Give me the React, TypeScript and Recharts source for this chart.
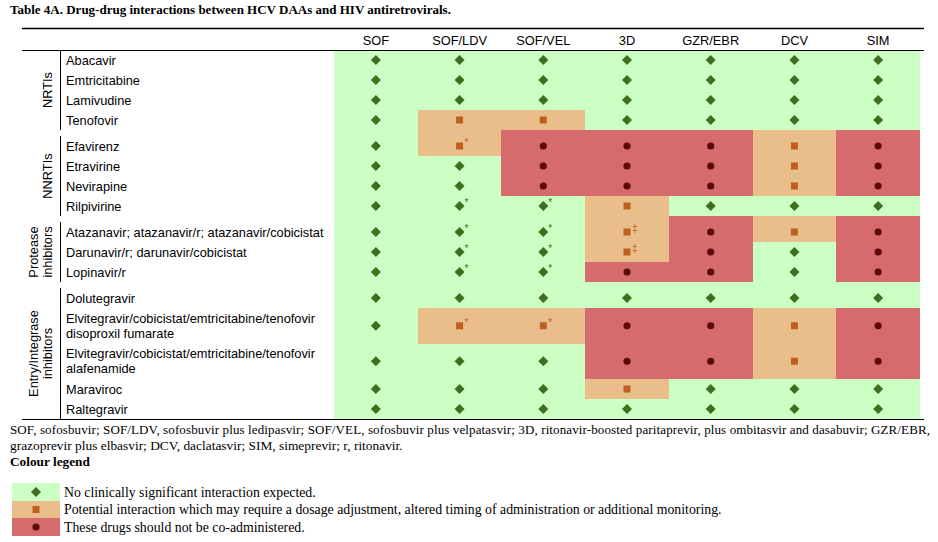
import { ReferenceArea, Scatter, ScatterChart, XAxis, YAxis } from 'recharts'

const regimens = ['SOF', 'SOF/LDV', 'SOF/VEL', '3D', 'GZR/EBR', 'DCV', 'SIM']

const drugs = [
  'Abacavir',
  'Emtricitabine',
  'Lamivudine',
  'Tenofovir',
  'Efavirenz',
  'Etravirine',
  'Nevirapine',
  'Rilpivirine',
  'Atazanavir; atazanavir/r; atazanavir/cobicistat',
  'Darunavir/r; darunavir/cobicistat',
  'Lopinavir/r',
  'Dolutegravir',
  'Elvitegravir/cobicistat/emtricitabine/tenofovir\ndisoproxil fumarate',
  'Elvitegravir/cobicistat/emtricitabine/tenofovir\nalafenamide',
  'Maraviroc',
  'Raltegravir',
]

const drugGroups = ['NRTIs', 'NNRTIs', 'Protease\ninhibitors', 'Entry/Integrase\ninhibitors']
const groupSizes = [4, 4, 3, 5]

// g = no interaction, o = potential interaction, r = do not co-administer (+ footnote mark)
const interactions = [
  ['g', 'g', 'g', 'g', 'g', 'g', 'g'],
  ['g', 'g', 'g', 'g', 'g', 'g', 'g'],
  ['g', 'g', 'g', 'g', 'g', 'g', 'g'],
  ['g', 'o', 'o', 'g', 'g', 'g', 'g'],
  ['g', 'o*', 'r', 'r', 'r', 'o', 'r'],
  ['g', 'g', 'r', 'r', 'r', 'o', 'r'],
  ['g', 'g', 'r', 'r', 'r', 'o', 'r'],
  ['g', 'g*', 'g*', 'o', 'g', 'g', 'g'],
  ['g', 'g*', 'g*', 'o‡', 'r', 'o', 'r'],
  ['g', 'g*', 'g*', 'o‡', 'r', 'g', 'r'],
  ['g', 'g*', 'g*', 'r', 'r', 'g', 'r'],
  ['g', 'g', 'g', 'g', 'g', 'g', 'g'],
  ['g', 'o*', 'o*', 'r', 'r', 'o', 'r'],
  ['g', 'g', 'g', 'r', 'r', 'o', 'r'],
  ['g', 'g', 'g', 'o', 'g', 'g', 'g'],
  ['g', 'g', 'g', 'g', 'g', 'g', 'g'],
]

const abbreviations = [
  'SOF, sofosbuvir; SOF/LDV, sofosbuvir plus ledipasvir; SOF/VEL, sofosbuvir plus velpatasvir; 3D, ritonavir-boosted paritaprevir, plus ombitasvir and dasabuvir; GZR/EBR,',
  'grazoprevir plus elbasvir; DCV, daclatasvir; SIM, simeprevir; r, ritonavir.',
]

const legendLevels = ['g', 'o', 'r']
const legendTexts = [
  'No clinically significant interaction expected.',
  'Potential interaction which may require a dosage adjustment, altered timing of administration or additional monitoring.',
  'These drugs should not be co-administered.',
]

const SANS = '"Liberation Sans", Arial, sans-serif'
const SERIF = '"Liberation Serif", "Times New Roman", serif'
const LABEL_SIZE = 12.8
const CELL_FILL: Record<string, string> = { g: '#ccffc4', o: '#e9be8a', r: '#d66b6d' }
const MARK_FILL: Record<string, string> = { g: '#3f6e1e', o: '#c0601e', r: '#5c0a0a' }

const PLOT_TOP = 50
const ROW_H = 20
const EXTRA_LINE_H = 15.5
const GROUP_GAP = 6

// row bands: first row of each later group gets a small gap above it
const rows: { name: string; top: number; bottom: number; mid: number; group: number; first: boolean }[] = []
const groups: { name: string; lineTop: number; bottom: number; mid: number }[] = []
{
  let y = 0
  let i = 0
  groupSizes.forEach((size, g) => {
    let lineTop = 0
    for (let k = 0; k < size; k++, i++) {
      const pad = g > 0 && k === 0 ? GROUP_GAP : 0
      const lines = drugs[i].split('\n').length
      const h = pad + ROW_H + (lines - 1) * EXTRA_LINE_H
      if (k === 0) lineTop = y + pad
      rows.push({ name: drugs[i], top: y, bottom: y + h, mid: y + pad + (h - pad) / 2, group: g, first: k === 0 })
      y += h
    }
    groups.push({ name: drugGroups[g], lineTop, bottom: y, mid: (lineTop + y) / 2 })
  })
}
const TOTAL = rows[rows.length - 1].bottom

const cells = rows.flatMap((r, ri) =>
  interactions[ri].map((code, ci) => ({ ri, ci, level: code[0], y1: r.top, y2: r.bottom })),
)
const points = rows.flatMap((r, ri) =>
  interactions[ri].map((code, ci) => ({ x: ci + 0.5, y: r.mid, level: code[0], note: code.slice(1) })),
)

function Marker({ cx, cy, level, note }: { cx: number; cy: number; level: string; note?: string }) {
  const fill = MARK_FILL[level]
  let shape
  if (level === 'g') shape = <path d={`M${cx} ${cy - 5}L${cx + 5} ${cy}L${cx} ${cy + 5}L${cx - 5} ${cy}Z`} fill={fill} />
  else if (level === 'o') shape = <rect x={cx - 3.5} y={cy - 3.5} width={7} height={7} fill={fill} />
  else shape = <circle cx={cx} cy={cy} r={3.6} fill={fill} />
  return (
    <g>
      {shape}
      {note ? (
        <text x={cx + 5} y={cy} fontSize={10} fontFamily={SANS} fill={fill}>
          {note}
        </text>
      ) : null}
    </g>
  )
}

const renderMarker = (p: any) => <Marker cx={p.cx} cy={p.cy} level={p.payload.level} note={p.payload.note} />

const crispRect = (p: any) => (
  <rect x={p.x} y={p.y} width={p.width} height={p.height} fill={p.fill} shapeRendering="crispEdges" />
)

const HeaderTick = (p: any) => (
  <text x={p.x} y={PLOT_TOP - 10} textAnchor="middle" dominantBaseline="central" fontSize={LABEL_SIZE} fontFamily={SANS} fill="#000">
    {regimens[Math.round(p.payload.value - 0.5)]}
  </text>
)

// group label + bracket line, drawn alongside the first drug of each group
function GroupLabel({ index, offsetY }: { index: number; offsetY: number }) {
  const grp = groups[index]
  const lines = grp.name.split('\n')
  const cy = offsetY + grp.mid
  return (
    <g>
      <line x1={60.5} x2={60.5} y1={offsetY + grp.lineTop} y2={offsetY + grp.bottom} stroke="#000" strokeWidth={1} />
      {lines.map((l, i) => {
        const cx = 47 - (lines.length - 1 - i) * 14
        return (
          <text
            key={i}
            x={cx}
            y={cy}
            transform={`rotate(-90 ${cx} ${cy})`}
            textAnchor="middle"
            dominantBaseline="central"
            fontSize={LABEL_SIZE}
            fontFamily={SANS}
            fill="#000"
          >
            {l}
          </text>
        )
      })}
    </g>
  )
}

const DrugTick = (p: any) => {
  const row = rows.find((r) => Math.abs(r.mid - p.payload.value) < 0.01)
  if (!row) return null
  const lines = row.name.split('\n')
  const y0 = p.y - ((lines.length - 1) * 15) / 2
  // pixel offset of data 0 (1 data unit = 1px here)
  const offsetY = p.y - row.mid
  return (
    <g>
      {row.first ? <GroupLabel index={row.group} offsetY={offsetY} /> : null}
      <text fontSize={LABEL_SIZE} fontFamily={SANS} fill="#000">
        {lines.map((l, i) => (
          <tspan key={i} x={66} y={y0 + i * 15} dominantBaseline="central">
            {l}
          </tspan>
        ))}
      </text>
    </g>
  )
}

export default function App() {
  return (
    <div style={{ position: 'absolute', left: 0, top: 0, width: 938, height: 542, background: '#fff' }}>
      <ScatterChart width={938} height={542} margin={{ top: 28, right: 18, bottom: 542 - PLOT_TOP - TOTAL, left: 22 }}>
        <XAxis
          xAxisId="col"
          type="number"
          dataKey="x"
          orientation="top"
          domain={[0, regimens.length]}
          ticks={regimens.map((_, i) => i + 0.5)}
          interval={0}
          height={22}
          axisLine={false}
          tickLine={false}
          tick={HeaderTick}
        />
        <YAxis
          yAxisId="row"
          type="number"
          dataKey="y"
          domain={[0, TOTAL]}
          reversed
          ticks={rows.map((r) => r.mid)}
          interval={0}
          width={312}
          axisLine={false}
          tickLine={false}
          tick={DrugTick}
        />
        {cells.map((c) => (
          <ReferenceArea
            key={`${c.ri}-${c.ci}`}
            xAxisId="col"
            yAxisId="row"
            x1={c.ci}
            x2={c.ci + 1}
            y1={c.y1}
            y2={c.y2}
            fill={CELL_FILL[c.level]}
            fillOpacity={1}
            stroke="none"
            ifOverflow="visible"
            shape={crispRect}
          />
        ))}
        <Scatter data={points} xAxisId="col" yAxisId="row" isAnimationActive={false} shape={renderMarker} />
      </ScatterChart>

      <svg width={938} height={542} style={{ position: 'absolute', left: 0, top: 0, pointerEvents: 'none' }}>
        <text x={10} y={14} fontSize={13} fontWeight="bold" fontFamily={SERIF} fill="#000">
          Table 4A. Drug-drug interactions between HCV DAAs and HIV antiretrovirals.
        </text>
        <line x1={22} x2={924} y1={28.5} y2={28.5} stroke="#000" strokeWidth={1.3} />
        <line x1={22} x2={924} y1={PLOT_TOP + 0.5} y2={PLOT_TOP + 0.5} stroke="#000" strokeWidth={1.2} />
        <line x1={22} x2={924} y1={PLOT_TOP + TOTAL + 0.5} y2={PLOT_TOP + TOTAL + 0.5} stroke="#000" strokeWidth={1.2} />
        <text x={10} y={434} fontSize={13} fontFamily={SERIF} fill="#000" textLength={920} lengthAdjust="spacing">
          {abbreviations[0]}
        </text>
        <text x={10} y={450} fontSize={13.4} fontFamily={SERIF} fill="#000">
          {abbreviations[1]}
        </text>
        <text x={10} y={466} fontSize={13.3} fontWeight="bold" fontFamily={SERIF} fill="#000">
          Colour legend
        </text>
        {legendLevels.map((lv, i) => (
          <g key={lv}>
            <rect x={12} y={483 + i * 17.5} width={48} height={17.5} fill={CELL_FILL[lv]} shapeRendering="crispEdges" />
            <Marker cx={36} cy={492 + i * 17.5} level={lv} />
            <text x={64} y={492 + i * 17.5} dominantBaseline="central" fontSize={13.8} fontFamily={SERIF} fill="#000">
              {legendTexts[i]}
            </text>
          </g>
        ))}
      </svg>
    </div>
  )
}
